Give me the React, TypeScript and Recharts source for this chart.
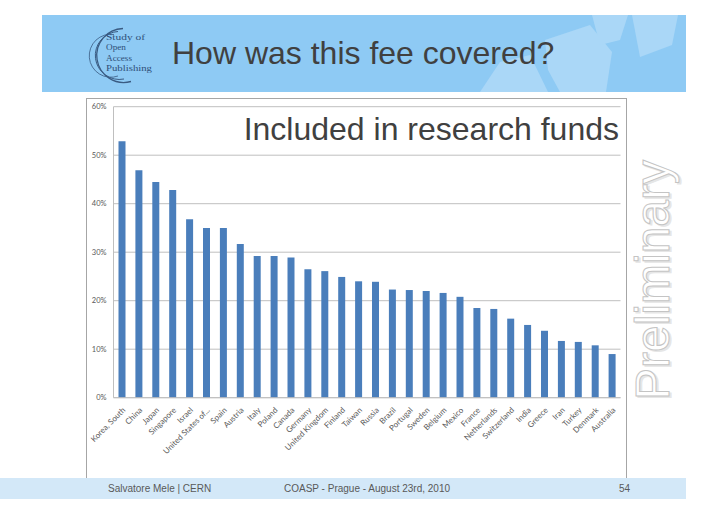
import React from 'react';
import { BarChart, Bar, XAxis, YAxis, CartesianGrid } from 'recharts';

const countries = [
  'Korea, South', 'China', 'Japan', 'Singapore', 'Israel', 'United States of...',
  'Spain', 'Austria', 'Italy', 'Poland', 'Canada', 'Germany', 'United Kingdom',
  'Finland', 'Taiwan', 'Russia', 'Brazil', 'Portugal', 'Sweden', 'Belgium',
  'Mexico', 'France', 'Netherlands', 'Switzerland', 'India', 'Greece', 'Iran',
  'Turkey', 'Denmark', 'Australia',
];
const researchFunds = [
  52.9, 46.9, 44.5, 42.8, 36.8, 35.0, 35.0, 31.7, 29.2, 29.2, 28.9, 26.5, 26.1,
  24.9, 24.0, 23.9, 22.3, 22.2, 22.0, 21.6, 20.8, 18.5, 18.3, 16.3, 15.0, 13.8,
  11.7, 11.5, 10.8, 9.0,
];
const yTicks = [0, 10, 20, 30, 40, 50, 60];

const data = countries.map((c, i) => ({ country: c, value: researchFunds[i] }));

const XTick = (props: any) => {
  const { x, y, payload } = props;
  return (
    <text
      transform={`translate(${x + 4},${y + 13}) rotate(-45)`}
      textAnchor="end"
      fontSize={8}
      fontFamily="Lato, 'Open Sans', sans-serif"
      fill="#595959"
    >
      {payload.value}
    </text>
  );
};

export default function App() {
  return (
    <div style={{ position: 'fixed', left: 0, top: 0, width: 728, height: 514, background: '#fff', overflow: 'hidden' }}>
      <svg width={728} height={514} style={{ position: 'absolute', left: 0, top: 0 }}>
        {/* header band */}
        <rect x={42} y={15} width={644} height={77} fill="#8ecaf4" />
        <polygon points="480,92 500,62 530,55 548,92" fill="#aad7f7" />
        <polygon points="545,40 590,25 612,52 606,92 560,92 548,70" fill="#aad7f7" />
        <polygon points="592,15 628,15 620,40 600,45" fill="#aad7f7" />
        <polygon points="632,15 678,15 672,45 640,57" fill="#aad7f7" />
        {/* logo */}
        <path d="M123,28.5 A27,27 0 1,0 131,81.5" fill="none" stroke="#3a5b82" strokeWidth={1.3} />
        <path d="M118,31.5 A24,24 0 1,0 124,79" fill="none" stroke="#3a5b82" strokeWidth={1} />
        <path d="M114,34.5 A21.5,21.5 0 1,0 118,76" fill="none" stroke="#3a5b82" strokeWidth={0.8} />
        <g fontFamily="'Liberation Serif', 'DejaVu Serif', serif" fill="#2e5079" fontSize={9.2}>
          <text x={106} y={39.5} textLength={39} lengthAdjust="spacingAndGlyphs">Study of</text>
          <text x={106} y={50}>Open</text>
          <text x={106} y={60.5}>Access</text>
          <text x={106} y={71} textLength={46} lengthAdjust="spacingAndGlyphs">Publishing</text>
        </g>
        <text x={172} y={63.5} fontSize={32} fontFamily="'Liberation Sans', Arial, sans-serif" fill="#404040">
          How was this fee covered?
        </text>
        {/* chart box */}
        <rect x={86.5} y={98.5} width={540} height={380} fill="#fff" stroke="#a6a6a6" strokeWidth={1} />
        {/* footer band */}
        <rect x={0} y={478} width={686} height={21} fill="#d3e8f8" />
        <g fontFamily="'Liberation Sans', Arial, sans-serif" fontSize={10} fill="#595959">
          <text x={108} y={492}>Salvatore Mele | CERN</text>
          <text x={284} y={492}>COASP - Prague - August 23rd, 2010</text>
          <text x={619} y={492}>54</text>
        </g>
      </svg>
      <div style={{ position: 'absolute', left: 0, top: 0 }}>
        <BarChart
          width={728}
          height={514}
          data={data}
          margin={{ top: 106.7, right: 107.5, bottom: 56.3, left: 83.5 }}
        >
          <CartesianGrid vertical={false} stroke="#bfbfbf" />
          <XAxis
            dataKey="country"
            interval={0}
            height={60}
            tick={<XTick />}
            tickLine={false}
            tickSize={0}
            tickMargin={0}
            axisLine={{ stroke: '#bfbfbf' }}
          />
          <YAxis
            width={30}
            domain={[0, 60]}
            ticks={yTicks}
            tickFormatter={(v: number) => `${v}%`}
            tickLine={false}
            tickSize={0}
            tickMargin={7}
            axisLine={{ stroke: '#bfbfbf' }}
            tick={{ fontSize: 7.5, fill: '#595959', fontFamily: "Lato, 'Open Sans', sans-serif" }}
          />
          <Bar dataKey="value" fill="#4a7ebb" barSize={7} isAnimationActive={false} />
        </BarChart>
      </div>
      <svg width={728} height={514} style={{ position: 'absolute', left: 0, top: 0, pointerEvents: 'none' }}>
        <text x={619} y={140} textAnchor="end" fontSize={32} fontFamily="'Liberation Sans', Arial, sans-serif" fill="#404040">
          Included in research funds
        </text>
        <text
          transform="translate(670.5,281.5) rotate(-90)"
          textAnchor="middle"
          fontSize={48}
          fontFamily="'Liberation Sans', Arial, sans-serif"
          fill="#e6e6e6"
          stroke="#e6e6e6"
          strokeWidth={1}
        >
          Preliminary
        </text>
        <text
          transform="translate(669,280) rotate(-90)"
          textAnchor="middle"
          fontSize={48}
          fontFamily="'Liberation Sans', Arial, sans-serif"
          fill="#ffffff"
          stroke="#c4c4c4"
          strokeWidth={1}
        >
          Preliminary
        </text>
      </svg>
    </div>
  );
}
